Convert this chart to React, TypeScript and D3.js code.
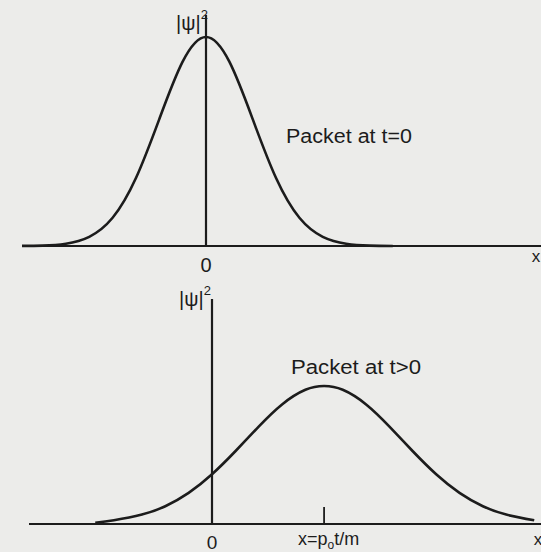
import React from "react";
import * as d3 from "d3";

// Packet at t=0 : x (in packet-width units), |psi|^2 (relative)
const topX = [-3.94, -3.5, -3, -2.5, -2, -1.5, -1, -0.5, 0, 0.5, 1, 1.5, 2, 2.5, 3, 3.5, 4.0];
const topY = [0.0004, 0.002, 0.011, 0.044, 0.135, 0.325, 0.607, 0.882, 1, 0.882, 0.607, 0.325, 0.135, 0.044, 0.011, 0.002, 0.0003];

// Packet at t>0 (spread out and moved to x = p0 t / m)
const botX = [-2.5, -2.1, -1.5, -1.0, -0.5, 0, 0.5, 1.0, 1.5, 2.0, 2.4, 2.8, 3.3, 3.8, 4.3, 4.8, 5.3, 5.8, 6.3, 6.9];
const botY = [0.006, 0.018, 0.045, 0.085, 0.149, 0.238, 0.348, 0.466, 0.572, 0.642, 0.66, 0.642, 0.572, 0.466, 0.348, 0.238, 0.149, 0.085, 0.045, 0.018];
const botCenter = 2.4;

const topLabel = "Packet at t=0";
const botLabel = "Packet at t>0";

const W = 541;
const H = 552;
const ink = "#1c1c1c";
const font = "'Liberation Sans', Arial, sans-serif";

export default function App() {
  const unit = 46.7;
  const xTop = d3.scaleLinear().domain([0, 1]).range([206, 206 + unit]);
  const yTop = d3.scaleLinear().domain([0, 1]).range([246, 37]);
  const xBot = d3.scaleLinear().domain([0, 1]).range([212, 212 + unit]);
  const yBot = d3.scaleLinear().domain([0, 1]).range([524, 315]);

  const lineTop = d3
    .line<number>()
    .x((_, i) => xTop(topX[i]))
    .y((d) => yTop(d))
    .curve(d3.curveNatural);
  const lineBot = d3
    .line<number>()
    .x((_, i) => xBot(botX[i]))
    .y((d) => yBot(d))
    .curve(d3.curveNatural);

  return (
    <div style={{ position: "fixed", left: 0, top: 0, width: W, height: H }}>
      <svg width={W} height={H} style={{ display: "block" }}>
        <rect x={0} y={0} width={W} height={H} fill="#ececea" />
        {/* top panel */}
        <line x1={22} x2={W} y1={yTop(0)} y2={yTop(0)} stroke={ink} strokeWidth={2.2} />
        <line x1={xTop(0)} x2={xTop(0)} y1={15} y2={yTop(0)} stroke={ink} strokeWidth={2.2} />
        <path d={lineTop(topY) || ""} fill="none" stroke={ink} strokeWidth={2.6} />
        <text x={208} y={30} fontFamily={font} fontSize={20} fill={ink} textAnchor="end">
          |ψ|<tspan fontSize={13} dy={-11}>2</tspan>
        </text>
        <text x={xTop(0)} y={272} fontFamily={font} fontSize={20} fill={ink} textAnchor="middle">0</text>
        <text x={536} y={262} fontFamily={font} fontSize={17} fill={ink} textAnchor="middle">x</text>
        <text x={286} y={143} fontFamily={font} fontSize={20} fill={ink} textLength={126} lengthAdjust="spacingAndGlyphs">
          {topLabel}
        </text>

        {/* bottom panel */}
        <line x1={29} x2={W} y1={yBot(0)} y2={yBot(0)} stroke={ink} strokeWidth={2.2} />
        <line x1={xBot(0)} x2={xBot(0)} y1={299} y2={yBot(0)} stroke={ink} strokeWidth={2.2} />
        <line x1={xBot(botCenter)} x2={xBot(botCenter)} y1={507} y2={yBot(0)} stroke={ink} strokeWidth={1.8} />
        <path d={lineBot(botY) || ""} fill="none" stroke={ink} strokeWidth={2.6} />
        <text x={211} y={306} fontFamily={font} fontSize={20} fill={ink} textAnchor="end">
          |ψ|<tspan fontSize={13} dy={-11}>2</tspan>
        </text>
        <text x={xBot(0)} y={549} fontFamily={font} fontSize={19} fill={ink} textAnchor="middle">0</text>
        <text x={538} y={545} fontFamily={font} fontSize={17} fill={ink} textAnchor="middle">x</text>
        <text x={291} y={374} fontFamily={font} fontSize={20} fill={ink} textLength={130} lengthAdjust="spacingAndGlyphs">
          {botLabel}
        </text>
        <text x={298} y={545} fontFamily={font} fontSize={18} fill={ink}>
          x=p<tspan fontSize={12} dy={4}>o</tspan>
          <tspan dy={-4}>t/m</tspan>
        </text>
      </svg>
    </div>
  );
}
